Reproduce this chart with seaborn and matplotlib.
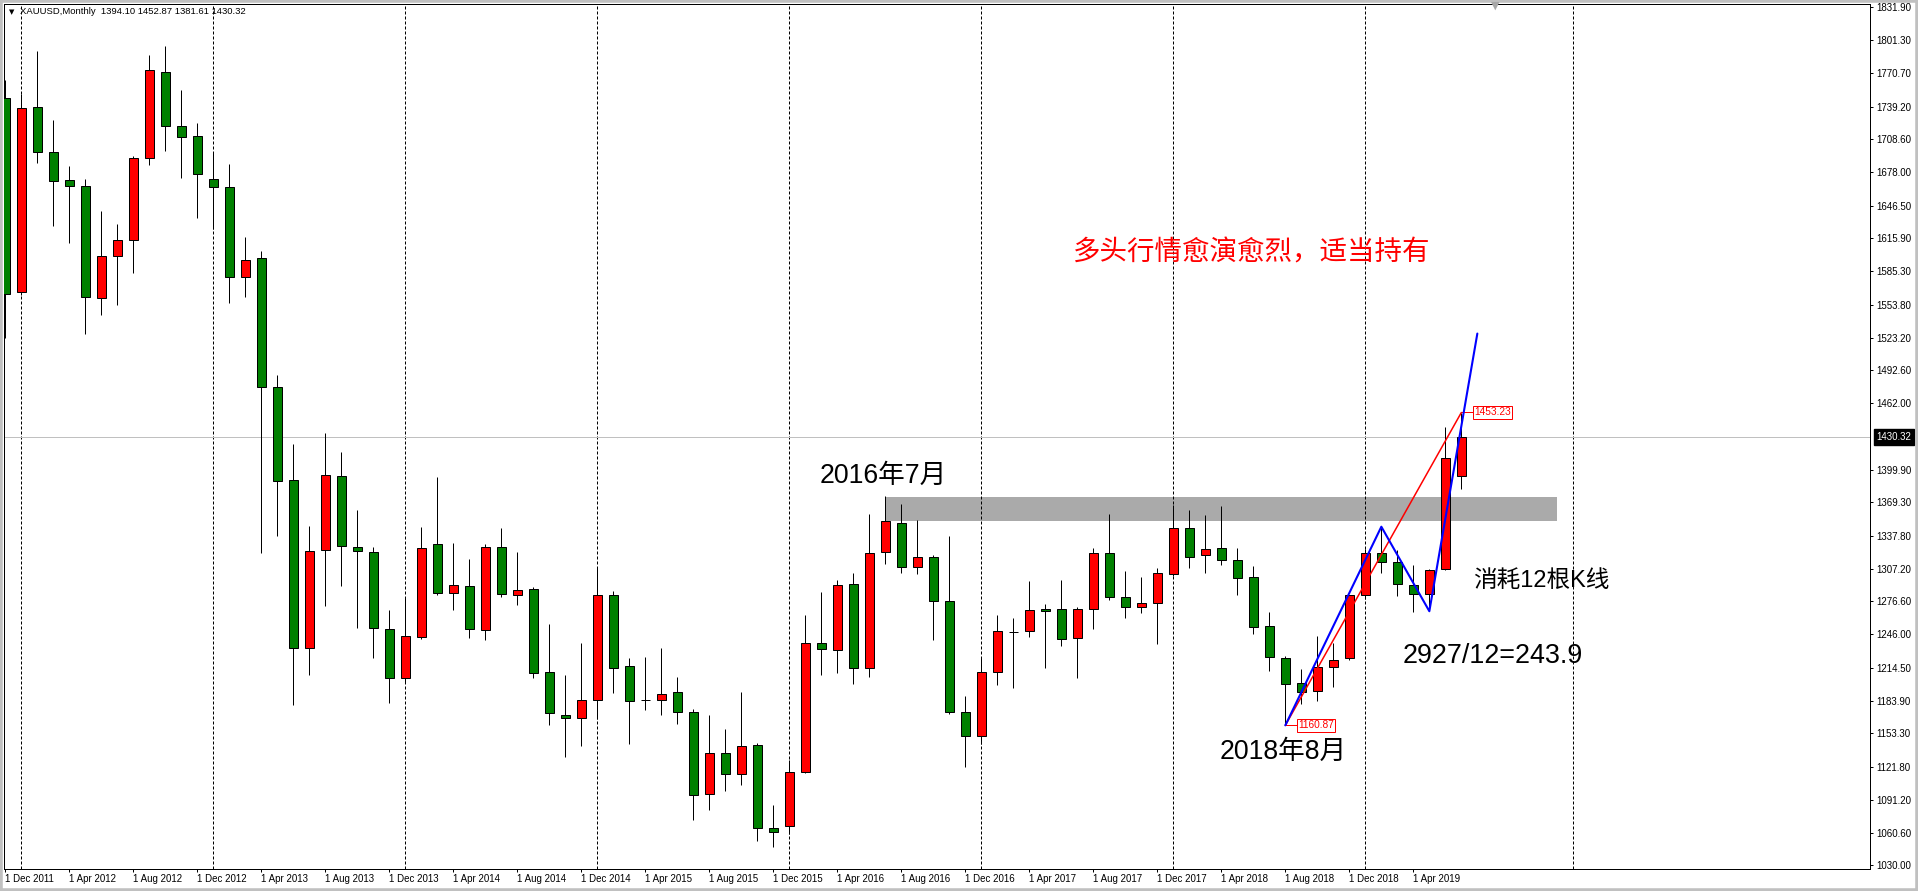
import numpy as np
import pandas as pd
import matplotlib
matplotlib.use("Agg")
import matplotlib.pyplot as plt
import matplotlib.transforms as mtransforms
from matplotlib.patches import Rectangle
import seaborn as sns

# ---------------- data (XAUUSD monthly, Dec 2011 .. Jul 2019) ----------------
months = pd.date_range("2011-12-01", "2019-07-01", freq="MS")

opens = [1746.9, 1566.0, 1738.4, 1696.4, 1670.2, 1664.6, 1560.0, 1599.2, 1614.1, 1690.8,
         1771.1, 1720.7, 1712.0, 1671.2, 1663.7, 1579.6, 1597.3, 1476.8, 1390.0, 1233.5,
         1324.5, 1393.6, 1327.3, 1322.6, 1250.6, 1204.8, 1243.2, 1330.0, 1284.2, 1290.8,
         1249.7, 1327.3, 1282.4, 1288.0, 1210.4, 1170.2, 1167.5, 1184.3, 1282.7, 1216.1,
         1184.4, 1184.3, 1191.8, 1173.1, 1096.5, 1135.0, 1115.4, 1142.2, 1064.7, 1066.8,
         1117.2, 1237.6, 1231.0, 1292.6, 1214.1, 1322.6, 1349.7, 1308.6, 1317.9, 1276.8,
         1173.1, 1150.7, 1210.6, 1248.3, 1248.8, 1269.2, 1269.6, 1242.5, 1269.6, 1321.6,
         1280.5, 1271.2, 1275.3, 1302.0, 1345.0, 1319.8, 1326.3, 1315.1, 1299.2, 1253.4,
         1223.5, 1200.2, 1192.7, 1215.4, 1223.5, 1282.4, 1321.6, 1313.2, 1291.7, 1283.3,
         1306.7, 1394.10]
highs = [1764.0, 1750.9, 1791.0, 1726.6, 1683.6, 1671.4, 1641.5, 1629.4, 1692.5, 1787.3,
         1795.7, 1754.6, 1723.8, 1696.7, 1685.5, 1617.2, 1604.2, 1488.3, 1423.8, 1347.1,
         1434.1, 1416.0, 1362.1, 1327.6, 1268.7, 1279.6, 1346.2, 1393.0, 1331.3, 1316.1,
         1330.0, 1344.9, 1322.6, 1289.9, 1255.3, 1207.9, 1238.2, 1308.2, 1286.5, 1223.8,
         1224.7, 1232.9, 1205.8, 1175.9, 1170.6, 1157.2, 1191.8, 1144.1, 1086.0, 1128.2,
         1264.0, 1285.5, 1296.3, 1302.9, 1358.0, 1374.9, 1367.7, 1352.8, 1319.8, 1337.8,
         1188.0, 1223.5, 1263.7, 1261.5, 1295.5, 1274.6, 1296.4, 1271.2, 1326.4, 1358.0,
         1304.8, 1299.2, 1307.7, 1366.5, 1361.8, 1357.1, 1365.6, 1326.3, 1309.5, 1266.9,
         1225.4, 1213.6, 1244.0, 1238.2, 1283.0, 1326.0, 1346.0, 1324.5, 1310.4, 1306.7,
         1439.4, 1452.87]
lows = [1522.6, 1563.0, 1686.7, 1627.8, 1611.9, 1526.9, 1544.6, 1554.0, 1583.9, 1684.5,
        1697.9, 1672.7, 1635.3, 1625.0, 1555.3, 1561.5, 1321.7, 1338.1, 1180.2, 1208.2,
        1272.7, 1291.4, 1251.6, 1224.1, 1182.0, 1200.0, 1241.3, 1282.4, 1268.4, 1242.2,
        1240.3, 1280.5, 1273.0, 1204.8, 1161.5, 1131.0, 1142.0, 1167.0, 1190.8, 1143.2,
        1174.9, 1170.3, 1162.4, 1072.1, 1081.5, 1099.2, 1105.2, 1052.5, 1046.9, 1059.0,
        1116.0, 1207.6, 1209.5, 1199.2, 1205.8, 1311.4, 1303.6, 1302.7, 1241.0, 1171.2,
        1122.2, 1143.2, 1198.3, 1195.5, 1243.8, 1214.5, 1235.3, 1204.9, 1251.2, 1277.7,
        1261.5, 1266.2, 1236.6, 1300.1, 1307.7, 1302.9, 1310.4, 1282.4, 1245.9, 1211.4,
        1160.87, 1180.6, 1183.4, 1196.4, 1221.7, 1279.0, 1302.9, 1281.4, 1266.9, 1267.8,
        1306.0, 1381.61]
closes = [1564.0, 1737.5, 1696.4, 1669.3, 1664.6, 1560.9, 1599.2, 1614.1, 1691.5, 1773.0,
          1720.7, 1710.4, 1675.8, 1663.7, 1579.6, 1595.5, 1476.8, 1389.0, 1232.9, 1323.5,
          1394.6, 1328.2, 1323.5, 1251.6, 1204.8, 1244.1, 1326.3, 1284.2, 1291.7, 1250.6,
          1327.3, 1283.3, 1287.1, 1209.4, 1172.1, 1167.5, 1184.3, 1282.4, 1214.2, 1183.4,
          1184.2, 1189.9, 1173.1, 1095.5, 1135.0, 1115.4, 1141.3, 1065.0, 1061.0, 1117.2,
          1237.6, 1232.0, 1291.7, 1214.1, 1321.6, 1351.6, 1308.6, 1317.9, 1276.8, 1173.1,
          1150.7, 1210.6, 1248.8, 1248.5, 1268.4, 1268.0, 1241.6, 1269.6, 1321.6, 1280.5,
          1271.2, 1275.3, 1303.0, 1345.0, 1317.9, 1325.4, 1315.1, 1298.3, 1252.5, 1224.5,
          1199.2, 1191.8, 1215.4, 1221.7, 1282.4, 1321.6, 1313.2, 1292.6, 1283.3, 1305.8,
          1410.4, 1430.32]

ytick_values = [1831.90, 1801.30, 1770.70, 1739.20, 1708.60, 1678.00, 1646.50, 1615.90,
                1585.30, 1553.80, 1523.20, 1492.60, 1462.00, 1399.90, 1369.30, 1337.80,
                1307.20, 1276.60, 1246.00, 1214.50, 1183.90, 1153.30, 1121.80, 1091.20,
                1060.60, 1030.00]
last_price = 1430.32
header = "XAUUSD,Monthly  1394.10 1452.87 1381.61 1430.32"

# resistance zone (Jul 2016 high area)
zone_bars = [55, 97]
zone_prices = [1352.1, 1374.4]
# trend lines
red_bars = [80, 91]
red_prices = [1160.87, 1453.23]
blue_bars = [80, 86, 89, 92]
blue_prices = [1160.87, 1346.5, 1267.5, 1527.0]
future_grid_bar = 98

title_cn = "多头行情愈演愈烈，适当持有"
label_2016 = "2016年7月"
label_2018 = "2018年8月"
label_k = "消耗12根K线"
label_calc = "2927/12=243.9"

# ---------------- style ----------------
sns.set_theme(style="white")
plt.rcParams["font.family"] = ["Liberation Sans", "Noto Sans CJK SC", "DejaVu Sans"]
plt.rcParams["axes.unicode_minus"] = False

W, H = 1918, 891
fig = plt.figure(figsize=(W / 100, H / 100), dpi=100)
fig.patch.set_facecolor("white")
ax = fig.add_axes([4 / W, (H - 869) / H, 1866 / W, 865 / H])
ax.set_facecolor("white")

px = 0.72  # one pixel in points
x = np.arange(len(opens))
o = np.array(opens)
c = np.array(closes)
up = c >= o
body_colors = np.where(up, "#FF0000", "#008000")

# zone
ax.add_patch(Rectangle((zone_bars[0], zone_prices[0]), zone_bars[1] - zone_bars[0],
                       zone_prices[1] - zone_prices[0], facecolor="#AAAAAA",
                       edgecolor="none", zorder=1))

# year grid (January bars)
grid_bars = [i for i, m in enumerate(months) if m.month == 1] + [future_grid_bar]
for g in grid_bars:
    ax.axvline(g, color="black", linewidth=px, linestyle=(0, (3, 2)), zorder=2)

# current price line
ax.axhline(last_price, color="#C0C0C0", linewidth=px, zorder=2)

# candles
ax.vlines(x, lows, highs, color="black", linewidth=px, zorder=3)
ax.bar(x, np.abs(c - o), bottom=np.minimum(o, c), width=0.58, color=body_colors,
       edgecolor="black", linewidth=px, zorder=4)

# trend lines via seaborn
sns.lineplot(x=red_bars, y=red_prices, ax=ax, color="#FF0000", linewidth=1.1,
             zorder=5, legend=False)
sns.lineplot(x=blue_bars, y=blue_prices, ax=ax, color="#0000FF", linewidth=1.5,
             zorder=6, legend=False, sort=False)

# price labels of the trend line
for b, p in zip(red_bars, red_prices):
    ax.plot([b, b + 0.7], [p, p], color="#FF0000", linewidth=px, zorder=5)
    ax.text(b + 0.78, p, f"{p:.2f}", color="#FF0000", fontsize=7.3, ha="left",
            va="center", zorder=7,
            bbox=dict(boxstyle="square,pad=0.12", fc="white", ec="#FF0000", lw=px))

# annotations
ax.text(66.75, 1595.1, title_cn, color="#FF0000", fontsize=19.8, ha="left",
        va="baseline", zorder=8)
ax.text(50.92, 1387.1, label_2016, color="black", fontsize=19.2, ha="left",
        va="baseline", zorder=8)
ax.text(75.92, 1129.1, label_2018, color="black", fontsize=19.2, ha="left",
        va="baseline", zorder=8)
ax.text(87.34, 1219.4, label_calc, color="black", fontsize=19.4, ha="left",
        va="baseline", zorder=8)
ax.text(91.71, 1290.2, label_k, color="black", fontsize=17, ha="left",
        va="baseline", zorder=8)

# axes
ax.set_xlim(-0.081, 116.54)
ax.set_ylim(1026.6, 1835.0)
for s in ax.spines.values():
    s.set_color("black")
    s.set_linewidth(px)

ax.yaxis.tick_right()
ax.set_yticks(ytick_values)
ax.set_yticklabels([f"{v:.2f}" for v in ytick_values])
ax.tick_params(axis="y", direction="out", length=2.2, width=px, pad=2,
               labelsize=7, colors="black", left=False, right=True)

xt = list(range(0, len(months), 4))
ax.set_xticks(xt)
ax.set_xticklabels([f"1 {months[i].strftime('%b %Y')}" for i in xt])
for lbl in ax.get_xticklabels():
    lbl.set_ha("left")
ax.tick_params(axis="x", direction="out", length=2.2, width=px, pad=1.5,
               labelsize=7, colors="black", bottom=True)
ax.set_xlabel("")
ax.set_ylabel("")
ax.grid(False)

# current price tag on the scale
trans = mtransforms.blended_transform_factory(ax.transAxes, ax.transData)
ax.text(1.0035, last_price, f"{last_price:.2f}", transform=trans, color="white",
        fontsize=7, ha="left", va="center", clip_on=False, zorder=10,
        bbox=dict(boxstyle="square,pad=0.3", fc="black", ec="black"))

# header
fig.text(9 / W, 1 - 12 / H, "▼", fontsize=5, family="DejaVu Sans", va="center",
         ha="left", color="black")
fig.text(20 / W, 1 - 12 / H, header, fontsize=6.8, va="center", ha="left",
         color="black")
fig.text(1495 / W, 1 - 6 / H, "▼", fontsize=8, family="DejaVu Sans", va="center",
         ha="center", color="#A8A8A8")

# window frame
fig.patches.append(Rectangle((0, 0), 1, 1, transform=fig.transFigure, fill=False,
                             edgecolor="#C0C0C0", linewidth=4))

fig.savefig("out.png", dpi=100, facecolor="white")
